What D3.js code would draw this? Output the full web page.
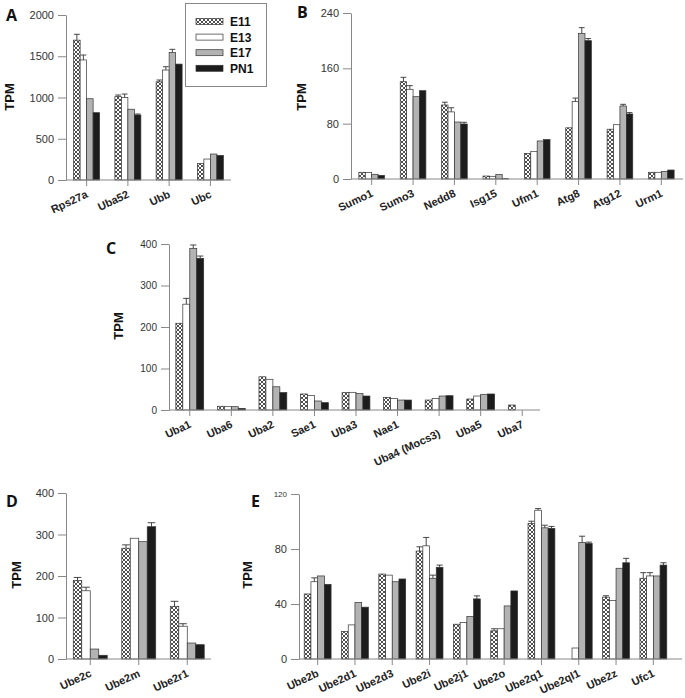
<!DOCTYPE html>
<html><head><meta charset="utf-8">
<script src="https://cdn.jsdelivr.net/npm/d3@7"></script>
<style>body{margin:0;background:#fff}</style>
</head><body><svg id="c" width="685" height="698"></svg>
<script>
const series = ["E11","E13","E17","PN1"];

// Panel A
const catsA = ["Rps27a","Uba52","Ubb","Ubc"];
const aE11 = [1695,1010,1190,200];
const aE13 = [1455,1000,1333,254];
const aE17 = [985,858,1547,315];
const aPN1 = [816,788,1405,298];
const aE11Err = [1766,1030,1212,null];
const aE13Err = [1515,1042,1373,null];
const aE17Err = [null,null,1584,null];
const aPN1Err = [null,800,null,null];
const ticksA = [0,500,1000,1500,2000];

// Panel B
const catsB = ["Sumo1","Sumo3","Nedd8","Isg15","Ufm1","Atg8","Atg12","Urm1"];
const bE11 = [9.7,140.7,107,4.3,37,74,72,9.7];
const bE13 = [9.5,129.7,97,3.9,40,112,78.5,9.7];
const bE17 = [6.8,119,82.4,6.3,55,210.6,105.6,11];
const bPN1 = [5.3,127.7,79.5,0.5,57,200,94,13];
const bE11Err = [null,147,111,null,null,null,null,null];
const bE13Err = [null,135,103,null,null,117,null,null];
const bE17Err = [null,null,null,null,null,218.8,108,null];
const bPN1Err = [null,null,82,null,null,203,96,null];
const ticksB = [0,80,160,240];

// Panel C
const catsC = ["Uba1","Uba6","Uba2","Sae1","Uba3","Nae1","Uba4 (Mocs3)","Uba5","Uba7"];
const cE11 = [209,9,80,38.6,41.8,30.5,24,26.5,12];
const cE13 = [255,8,74,35,42.6,28,28,33.7,0];
const cE17 = [389.6,8,56,21.7,39.4,24,33.7,37.8,0];
const cPN1 = [365.5,4,42,17.7,33.7,24,34.5,38.6,0];
const cE11Err = [null,null,null,null,null,null,null,null,null];
const cE13Err = [269,null,null,null,null,null,null,null,null];
const cE17Err = [397.6,null,null,null,null,null,null,null,null];
const cPN1Err = [371,null,null,null,null,null,null,null,null];
const ticksC = [0,100,200,300,400];

// Panel D
const catsD = ["Ube2c","Ube2m","Ube2r1"];
const dE11 = [189,267,127];
const dE13 = [164.4,291,79];
const dE17 = [24,282.7,38.5];
const dPN1 = [9,318.8,34.5];
const dE11Err = [196.5,275,139];
const dE13Err = [173,null,85];
const dE17Err = [null,null,null];
const dPN1Err = [null,328.4,null];
const ticksD = [0,100,200,300,400];

// Panel E
const catsE = ["Ube2b","Ube2d1","Ube2d3","Ube2i","Ube2j1","Ube2o","Ube2q1","Ube2ql1","Ube2z","Ufc1"];
const eE11 = [47.3,20,61.8,78.5,25.3,20.5,98.5,0,45,58.7];
const eE13 = [56.2,24.8,61,82.3,26.5,22,108.2,8,42.5,60.4];
const eE17 = [60.4,41,56.2,58.7,30.9,38.6,95.4,84.8,66,60.4];
const ePN1 = [54.3,37.7,58.2,66.7,43.7,49.5,95,84,70,68.3];
const eE11Err = [null,null,null,81.6,null,22,100.2,null,46,62.8];
const eE13Err = [59,null,null,88.4,null,null,109.4,null,null,62.8];
const eE17Err = [null,null,null,61,null,null,97.3,89.3,null,null];
const ePN1Err = [null,null,null,68.3,45.9,null,96.4,85,73.2,70];
const ticksE = [0,40,80,120];

const fills = {E11:"url(#hatch)", E13:"#ffffff", E17:"#b3b3b3", PN1:"#1c1c1c"};
const FONT = "'Liberation Sans', Arial, sans-serif";

const svg = d3.select("#c").style("font-family", FONT);
const defs = svg.append("defs");
const pat = defs.append("pattern").attr("id","hatch").attr("width",4).attr("height",4)
  .attr("patternUnits","userSpaceOnUse");
pat.append("rect").attr("width",4).attr("height",4).attr("fill","#fff");
pat.append("path").attr("d","M0,0L4,4M4,0L0,4M-1,3L1,5M3,-1L5,1M-1,1L1,-1M3,5L5,3")
  .attr("stroke","#222").attr("stroke-width",0.8);

function drawPanel(cfg, cats, vals, errs, ticks) {
  const g = svg.append("g");
  const y = d3.scaleLinear().domain([0, ticks[ticks.length-1]]).range([cfg.y0, cfg.yTop]);
  const p = cfg.pad;
  const x = d3.scaleBand().domain(cats).range([cfg.x0, cfg.xEnd]).paddingInner(p).paddingOuter(p/2);
  const xs = d3.scaleBand().domain(series).range([0, x.bandwidth()]);

  // bars
  series.forEach((s, si) => {
    cats.forEach((c, ci) => {
      const v = vals[si][ci];
      if (v <= 0) return;
      g.append("rect")
        .attr("x", x(c) + xs(s)).attr("y", y(v))
        .attr("width", xs.bandwidth()).attr("height", cfg.y0 - y(v))
        .attr("fill", fills[s]).attr("stroke", "#333").attr("stroke-width", 0.7);
      const e = errs[si][ci];
      if (e != null) {
        const cx = x(c) + xs(s) + xs.bandwidth()/2;
        const hw = xs.bandwidth()*0.45;
        g.append("path")
          .attr("d", `M${cx},${y(v)}V${y(e)}M${cx-hw},${y(e)}H${cx+hw}`)
          .attr("stroke","#333").attr("stroke-width",0.9).attr("fill","none");
      }
    });
  });

  // y axis
  const ya = g.append("g").attr("transform", `translate(${cfg.x0},0)`)
    .call(d3.axisLeft(y).tickValues(ticks).tickFormat(d => String(d))
      .tickSize(8).tickPadding(4).tickSizeOuter(0));
  ya.select(".domain").attr("stroke","#888");
  ya.selectAll(".tick line").attr("stroke","#888");
  ya.selectAll(".tick text").attr("fill","#333").style("font-size", cfg.tickFont+"px")
    .style("font-family", FONT);
  if (cfg.topTickFont) {
    ya.selectAll(".tick text").filter(d => d === ticks[ticks.length-1])
      .style("font-size", cfg.topTickFont+"px");
  }

  // x axis
  g.append("line").attr("x1", cfg.x0).attr("x2", cfg.axisEnd)
    .attr("y1", cfg.y0).attr("y2", cfg.y0).attr("stroke","#888").attr("stroke-width",1);
  cats.forEach(c => {
    const cx = x(c) + x.bandwidth()/2;
    g.append("line").attr("x1",cx).attr("x2",cx).attr("y1",cfg.y0).attr("y2",cfg.y0+6)
      .attr("stroke","#888");
    const extra = c.length > 8 ? 9 : 0;
    g.append("text")
      .attr("transform", `translate(${cx+2},${cfg.y0+17+extra}) rotate(-25)`)
      .attr("text-anchor","end").attr("fill","#222")
      .style("font-size","11px").style("font-weight","bold")
      .text(c);
  });

  // y title
  g.append("text")
    .attr("transform", `translate(${cfg.titleX},${cfg.titleY}) rotate(-90)`)
    .attr("text-anchor","middle").attr("fill","#111")
    .style("font-size","13px").style("font-weight","bold").text("TPM");

  // panel letter
  g.append("text").attr("x", cfg.letterX).attr("y", cfg.letterY)
    .attr("fill","#111").style("font-size","16px").style("font-weight","bold")
    .style("font-family","'Open Sans', 'DejaVu Sans', sans-serif")
    .text(cfg.letter);
}

drawPanel({letter:"A", letterX:6, letterY:21, x0:66, xEnd:231, axisEnd:231, y0:180, yTop:15,
  pad:0.37, tickFont:11, titleX:14, titleY:97},
  catsA, [aE11,aE13,aE17,aPN1], [aE11Err,aE13Err,aE17Err,aPN1Err], ticksA);

drawPanel({letter:"B", letterX:297, letterY:18, x0:351, xEnd:682, axisEnd:683, y0:179, yTop:13,
  pad:0.38, tickFont:11, titleX:306, titleY:97},
  catsB, [bE11,bE13,bE17,bPN1], [bE11Err,bE13Err,bE17Err,bPN1Err], ticksB);

drawPanel({letter:"C", letterX:106, letterY:254, x0:169, xEnd:543, axisEnd:540, y0:410, yTop:244,
  pad:0.33, tickFont:10, titleX:123, titleY:326},
  catsC, [cE11,cE13,cE17,cPN1], [cE11Err,cE13Err,cE17Err,cPN1Err], ticksC);

drawPanel({letter:"D", letterX:6, letterY:507, x0:66, xEnd:211.5, axisEnd:211, y0:659, yTop:493,
  pad:0.3, tickFont:11, titleX:21, titleY:575},
  catsD, [dE11,dE13,dE17,dPN1], [dE11Err,dE13Err,dE17Err,dPN1Err], ticksD);

drawPanel({letter:"E", letterX:251, letterY:507, x0:299, xEnd:672, axisEnd:682, y0:659, yTop:494,
  pad:0.28, tickFont:11, topTickFont:8, titleX:252, titleY:575},
  catsE, [eE11,eE13,eE17,ePN1], [eE11Err,eE13Err,eE17Err,ePN1Err], ticksE);

// legend
const lg = svg.append("g");
lg.append("rect").attr("x",185.5).attr("y",3.5).attr("width",81).attr("height",83)
  .attr("fill","#fff").attr("stroke","#888");
series.forEach((s,i) => {
  const cy = 21.5 + i*15.6;
  lg.append("rect").attr("x",196).attr("y",cy-3).attr("width",27).attr("height",6)
    .attr("fill",fills[s]).attr("stroke","#333").attr("stroke-width",0.7);
  lg.append("text").attr("x",230).attr("y",cy+4.5).attr("fill","#111")
    .style("font-size","12px").style("font-weight","bold").text(s);
});
</script></body></html>
